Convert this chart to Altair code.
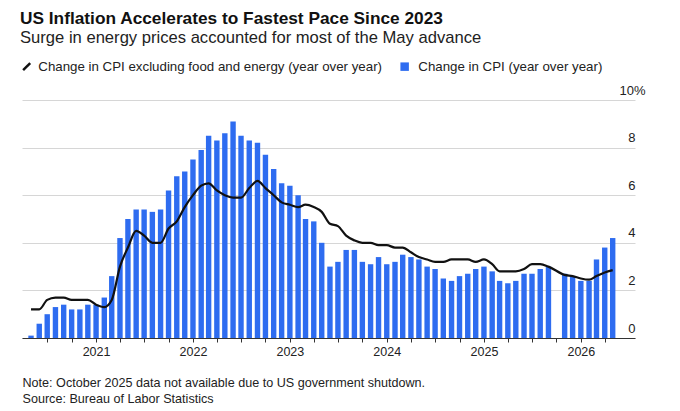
import altair as alt
import pandas as pd

months = pd.date_range("2020-05-01", "2026-05-01", freq="MS").strftime("%Y-%m-%d").tolist()

# Change in CPI (year over year), %
cpi = [0.1, 0.6, 1.0, 1.3, 1.4, 1.2, 1.2, 1.4,
       1.4, 1.7, 2.6, 4.2, 5.0, 5.4, 5.4, 5.3, 5.4, 6.2, 6.8, 7.0,
       7.5, 7.9, 8.5, 8.3, 8.6, 9.1, 8.5, 8.3, 8.2, 7.7, 7.1, 6.5,
       6.4, 6.0, 5.0, 4.9, 4.0, 3.0, 3.2, 3.7, 3.7, 3.2, 3.1, 3.4,
       3.1, 3.2, 3.5, 3.4, 3.3, 3.0, 2.9, 2.5, 2.4, 2.6, 2.7, 2.9,
       3.0, 2.8, 2.4, 2.3, 2.4, 2.7, 2.7, 2.9, 3.0, None, 2.7, 2.6,
       2.4, 2.4, 3.3, 3.8, 4.2]

# Change in CPI excluding food and energy (year over year), %
core = [1.2, 1.2, 1.6, 1.7, 1.7, 1.6, 1.6, 1.6,
        1.4, 1.3, 1.6, 3.0, 3.8, 4.5, 4.3, 4.0, 4.0, 4.6, 4.9, 5.5,
        6.0, 6.4, 6.5, 6.2, 6.0, 5.9, 5.9, 6.3, 6.6, 6.3, 6.0, 5.7,
        5.6, 5.5, 5.6, 5.5, 5.3, 4.8, 4.7, 4.3, 4.1, 4.0, 4.0, 3.9,
        3.9, 3.8, 3.8, 3.6, 3.4, 3.3, 3.2, 3.2, 3.3, 3.3, 3.3, 3.2,
        3.3, 3.1, 2.8, 2.8, 2.8, 2.9, 3.1, 3.1, 3.0, None, 2.65, 2.6,
        2.5, 2.45, 2.6, 2.75, 2.85]

y_ticks = [0, 2, 4, 6, 8, 10]
x_ticks = pd.date_range("2020-07-01", "2026-04-01", freq="QS-JAN")

core_name = "Change in CPI excluding food and energy (year over year)"
cpi_name = "Change in CPI (year over year)"

df = pd.DataFrame({"date": months, "cpi": cpi, "core": core})
df["s_core"] = core_name
df["s_cpi"] = cpi_name

FONT = "Liberation Sans"
BLUE = "#2e6cf0"

x_enc = alt.X(
    "date:T",
    scale=alt.Scale(
        type="utc",
        padding=0,
        domain=[alt.DateTime(year=2020, month=3, date=28, utc=True),
                alt.DateTime(year=2026, month=7, date=24, utc=True)],
    ),
    axis=alt.Axis(
        values=[alt.DateTime(year=d.year, month=d.month, date=1, utc=True) for d in x_ticks],
        labelExpr="utcmonth(datum.value) === 0 ? utcFormat(datum.value, '%Y') : ''",
        grid=False,
        domainColor="#333333",
        tickColor="#333333",
        tickSize=4,
        labelFontSize=12.5,
        labelColor="#222222",
        labelPadding=3,
        title=["Note: October 2025 data not available due to US government shutdown.",
               "Source: Bureau of Labor Statistics"],
        titleAnchor="start",
        titleAlign="left",
        titleFontWeight="normal",
        titleFontSize=12.6,
        titleColor="#222222",
        titleLineHeight=16,
        titlePadding=19,
    ),
)

y_axis = alt.Axis(
    orient="right",
    values=y_ticks,
    grid=True,
    gridColor="#d6d6d6",
    domain=False,
    ticks=False,
    tickSize=0,
    labelAlign="right",
    labelBaseline="alphabetic",
    labelOffset=-6,
    labelPadding={"condition": {"test": "datum.value == 10", "value": 10}, "value": 0},
    labelExpr="datum.value == 10 ? '10%' : datum.label",
    labelFontSize=13,
    labelColor="#222222",
    title=None,
)

bars = alt.Chart(df).mark_bar(width=5.4).encode(
    x=x_enc,
    y=alt.Y("cpi:Q", scale=alt.Scale(domain=[0, 10]), axis=y_axis),
    fill=alt.Fill(
        "s_cpi:N",
        scale=alt.Scale(range=[BLUE]),
        legend=alt.Legend(
            orient="none", legendX=376, legendY=-40, title=None,
            symbolType="square", symbolSize=72, symbolStrokeWidth=0,
            labelFontSize=13.3, labelColor="#222222", labelOffset=7, padding=0,
            labelLimit=400,
        ),
    ),
)

line = alt.Chart(df).transform_filter("isValid(datum.core)").mark_line(
    strokeWidth=2.2, interpolate="monotone"
).encode(
    x=x_enc,
    y=alt.Y("core:Q", scale=alt.Scale(domain=[0, 10]), axis=y_axis),
    stroke=alt.Stroke(
        "s_core:N",
        scale=alt.Scale(range=["#111111"]),
        legend=alt.Legend(
            orient="none", legendX=-2, legendY=-40, title=None,
            symbolType="M-1,1L1,-1", symbolSize=50, symbolStrokeWidth=2.5,
            labelFontSize=13.3, labelColor="#222222", labelOffset=5, padding=0,
            labelLimit=400,
        ),
    ),
)

chart = alt.layer(bars, line).properties(
    width=613,
    height=238,
    padding={"left": 12, "top": 2, "right": 5, "bottom": 0},
    title=alt.TitleParams(
        text="US Inflation Accelerates to Fastest Pace Since 2023",
        subtitle="Surge in energy prices accounted for most of the May advance",
        anchor="start",
        fontSize=17.3,
        fontWeight="bold",
        color="#111111",
        subtitleFontSize=16.6,
        subtitleColor="#222222",
        subtitlePadding=3,
        offset=13,
    ),
).configure(font=FONT).configure_view(stroke=None)

chart.save("out.html", embed_options={"renderer": "svg", "actions": False})
